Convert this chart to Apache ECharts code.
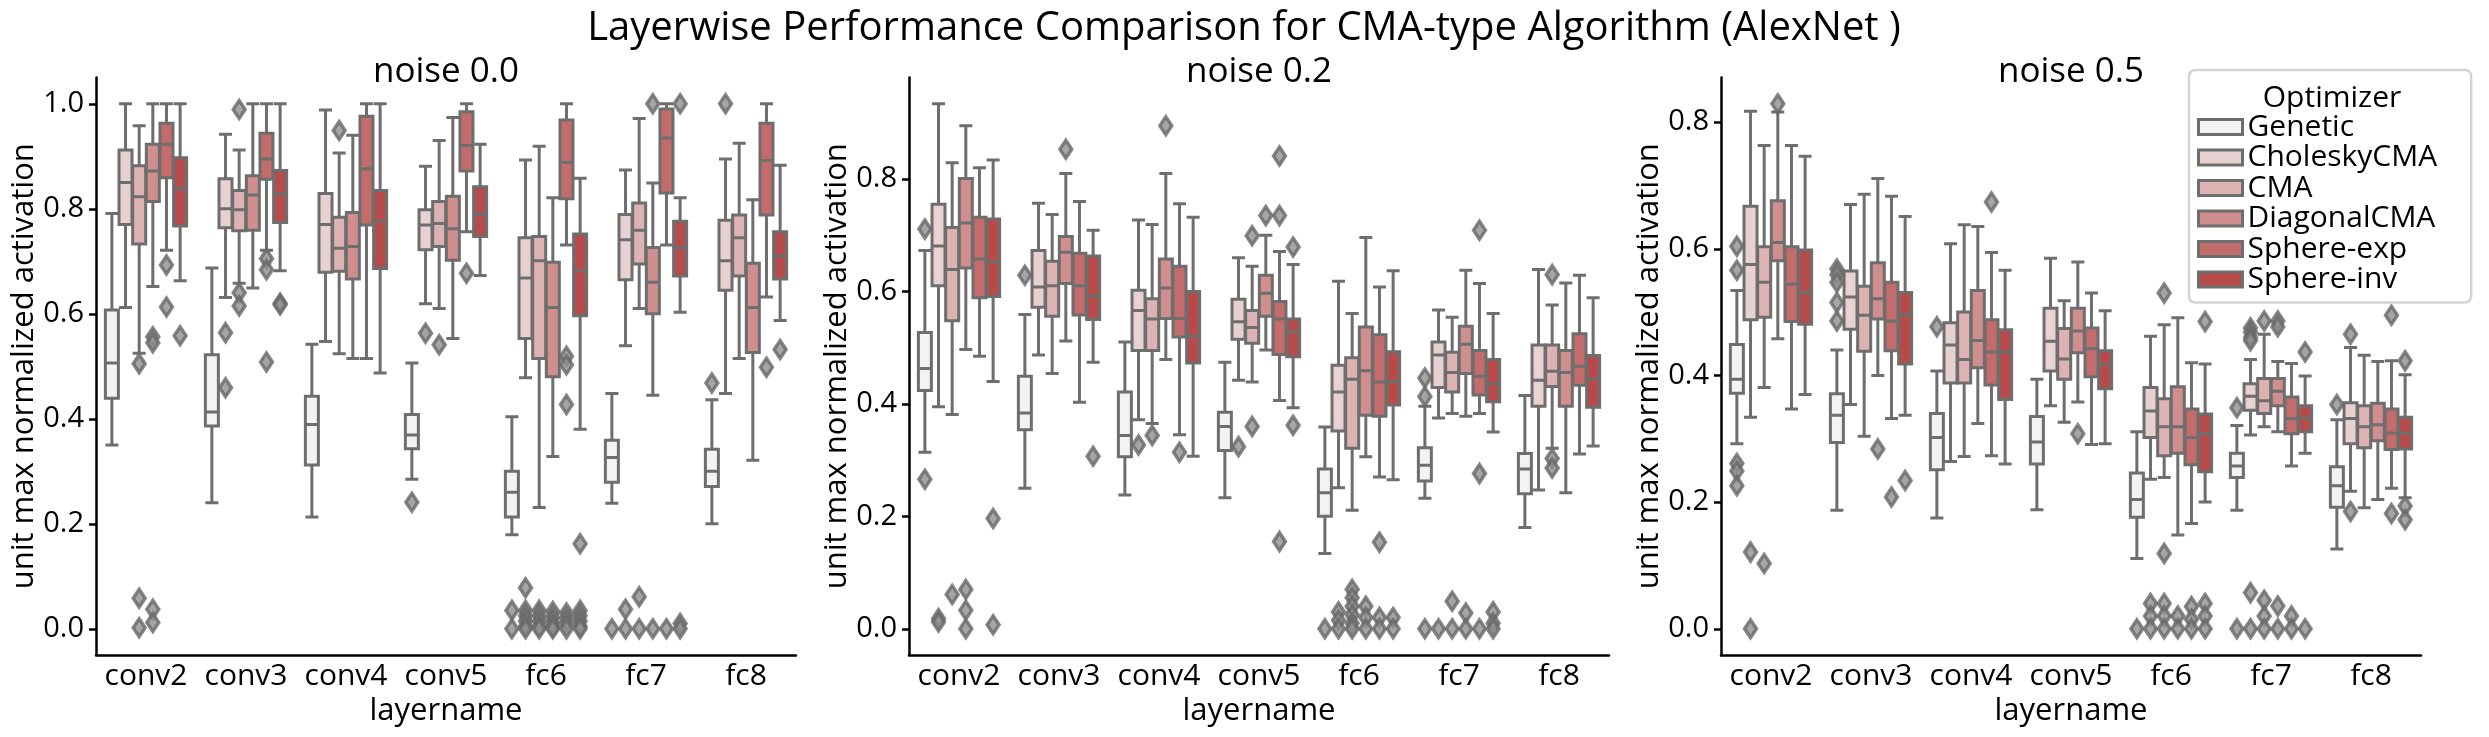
<!DOCTYPE html>
<html>
<head>
<meta charset="utf-8">
<script src="https://cdn.jsdelivr.net/npm/echarts@6/dist/echarts.min.js"></script>
<style>
  html, body { margin: 0; padding: 0; background: #fff; }
  #chart { width: 2489px; height: 737px; }
</style>
</head>
<body>
<div id="chart"></div>
<script>
// data
const categories = ['conv2', 'conv3', 'conv4', 'conv5', 'fc6', 'fc7', 'fc8'];
const optimizers = ['Genetic', 'CholeskyCMA', 'CMA', 'DiagonalCMA', 'Sphere-exp', 'Sphere-inv'];
const panelTitles = ['noise 0.0', 'noise 0.2', 'noise 0.5'];
const yTicks0 = [0, 0.2, 0.4, 0.6, 0.8, 1.0];
const yTicks1 = [0, 0.2, 0.4, 0.6, 0.8];
const yTicks2 = [0, 0.2, 0.4, 0.6, 0.8];

// [low whisker, q1, median, q3, high whisker] per layer
// noise 0.0
const n00Genetic = [[0.350, 0.439, 0.506, 0.607, 0.791], [0.240, 0.386, 0.413, 0.522, 0.687], [0.213, 0.312, 0.389, 0.443, 0.542], [0.285, 0.343, 0.369, 0.408, 0.506], [0.179, 0.213, 0.260, 0.300, 0.404], [0.239, 0.279, 0.326, 0.359, 0.448], [0.200, 0.271, 0.300, 0.342, 0.436]];
const n00Cholesky = [[0.612, 0.770, 0.850, 0.912, 1.0], [0.631, 0.764, 0.800, 0.857, 0.942], [0.547, 0.679, 0.770, 0.829, 0.988], [0.619, 0.722, 0.769, 0.798, 0.881], [0.478, 0.553, 0.668, 0.745, 0.893], [0.539, 0.665, 0.741, 0.789, 0.874], [0.448, 0.645, 0.701, 0.778, 0.895]];
const n00CMA = [[0.525, 0.733, 0.823, 0.882, 0.958], [0.658, 0.758, 0.798, 0.835, 0.912], [0.524, 0.681, 0.725, 0.784, 0.906], [0.610, 0.728, 0.772, 0.814, 0.930], [0.231, 0.515, 0.701, 0.747, 0.919], [0.610, 0.695, 0.759, 0.811, 0.972], [0.515, 0.672, 0.745, 0.788, 0.925]];
const n00Diagonal = [[0.652, 0.814, 0.872, 0.923, 1.0], [0.649, 0.759, 0.826, 0.863, 1.0], [0.515, 0.666, 0.728, 0.793, 0.940], [0.553, 0.702, 0.762, 0.824, 0.974], [0.328, 0.480, 0.612, 0.698, 0.821], [0.445, 0.600, 0.660, 0.726, 0.849], [0.321, 0.526, 0.612, 0.696, 0.817]];
const n00SphereExp = [[0.721, 0.859, 0.923, 0.963, 1.0], [0.721, 0.856, 0.895, 0.944, 1.0], [0.515, 0.769, 0.876, 0.976, 1.0], [0.756, 0.872, 0.921, 0.985, 1.0], [0.731, 0.819, 0.888, 0.969, 1.0], [0.731, 0.830, 0.935, 0.990, 1.0], [0.632, 0.788, 0.892, 0.963, 1.0]];
const n00SphereInv = [[0.663, 0.767, 0.838, 0.897, 1.0], [0.682, 0.774, 0.828, 0.873, 1.0], [0.487, 0.686, 0.776, 0.835, 1.0], [0.673, 0.747, 0.790, 0.842, 0.923], [0.380, 0.596, 0.682, 0.752, 0.858], [0.603, 0.672, 0.726, 0.776, 0.821], [0.587, 0.666, 0.710, 0.756, 0.883]];
// noise 0.2
const n02Genetic = [[0.314, 0.424, 0.463, 0.527, 0.673], [0.250, 0.354, 0.384, 0.449, 0.559], [0.238, 0.306, 0.344, 0.421, 0.510], [0.233, 0.317, 0.360, 0.385, 0.474], [0.134, 0.200, 0.242, 0.284, 0.359], [0.232, 0.263, 0.291, 0.322, 0.396], [0.180, 0.240, 0.284, 0.312, 0.415]];
const n02Cholesky = [[0.395, 0.610, 0.681, 0.755, 0.934], [0.487, 0.572, 0.608, 0.673, 0.757], [0.372, 0.495, 0.566, 0.602, 0.727], [0.442, 0.515, 0.546, 0.586, 0.660], [0.251, 0.352, 0.421, 0.469, 0.618], [0.375, 0.429, 0.487, 0.510, 0.567], [0.247, 0.396, 0.442, 0.505, 0.639]];
const n02CMA = [[0.381, 0.548, 0.639, 0.714, 0.829], [0.454, 0.556, 0.610, 0.654, 0.737], [0.365, 0.495, 0.551, 0.587, 0.719], [0.439, 0.508, 0.536, 0.566, 0.645], [0.211, 0.321, 0.444, 0.482, 0.561], [0.383, 0.421, 0.456, 0.492, 0.554], [0.321, 0.431, 0.458, 0.505, 0.576]];
const n02Diagonal = [[0.497, 0.642, 0.722, 0.801, 0.895], [0.512, 0.614, 0.670, 0.698, 0.810], [0.479, 0.552, 0.606, 0.658, 0.810], [0.496, 0.556, 0.597, 0.629, 0.700], [0.306, 0.380, 0.459, 0.537, 0.696], [0.378, 0.454, 0.506, 0.538, 0.638], [0.242, 0.396, 0.456, 0.495, 0.615]];
const n02SphereExp = [[0.485, 0.589, 0.658, 0.732, 0.820], [0.403, 0.558, 0.610, 0.668, 0.760], [0.345, 0.519, 0.552, 0.645, 0.756], [0.406, 0.488, 0.551, 0.582, 0.671], [0.270, 0.378, 0.439, 0.523, 0.608], [0.383, 0.416, 0.449, 0.495, 0.614], [0.311, 0.433, 0.467, 0.525, 0.629]];
const n02SphereInv = [[0.440, 0.591, 0.653, 0.729, 0.834], [0.474, 0.550, 0.592, 0.663, 0.709], [0.307, 0.473, 0.521, 0.600, 0.732], [0.393, 0.484, 0.529, 0.551, 0.648], [0.265, 0.398, 0.440, 0.493, 0.637], [0.350, 0.404, 0.436, 0.479, 0.561], [0.325, 0.394, 0.444, 0.486, 0.589]];
// noise 0.5
const n05Genetic = [[0.292, 0.372, 0.394, 0.449, 0.534], [0.187, 0.294, 0.337, 0.371, 0.440], [0.175, 0.251, 0.302, 0.340, 0.407], [0.188, 0.260, 0.295, 0.335, 0.394], [0.111, 0.176, 0.204, 0.246, 0.311], [0.187, 0.239, 0.257, 0.277, 0.321], [0.126, 0.192, 0.226, 0.256, 0.330]];
const n05Cholesky = [[0.334, 0.488, 0.575, 0.667, 0.817], [0.354, 0.473, 0.524, 0.565, 0.670], [0.264, 0.388, 0.448, 0.483, 0.608], [0.352, 0.407, 0.454, 0.506, 0.585], [0.236, 0.302, 0.344, 0.381, 0.462], [0.306, 0.345, 0.367, 0.387, 0.425], [0.217, 0.292, 0.332, 0.357, 0.444]];
const n05CMA = [[0.381, 0.492, 0.547, 0.603, 0.763], [0.304, 0.438, 0.495, 0.541, 0.686], [0.272, 0.388, 0.425, 0.500, 0.638], [0.326, 0.394, 0.426, 0.474, 0.518], [0.239, 0.273, 0.319, 0.363, 0.480], [0.319, 0.340, 0.360, 0.395, 0.465], [0.191, 0.286, 0.319, 0.352, 0.432]];
const n05Diagonal = [[0.458, 0.581, 0.610, 0.676, 0.816], [0.400, 0.489, 0.521, 0.578, 0.711], [0.324, 0.412, 0.455, 0.534, 0.635], [0.358, 0.436, 0.470, 0.506, 0.579], [0.148, 0.277, 0.319, 0.382, 0.491], [0.311, 0.352, 0.375, 0.395, 0.422], [0.204, 0.297, 0.322, 0.356, 0.422]];
const n05SphereExp = [[0.347, 0.485, 0.544, 0.603, 0.763], [0.332, 0.439, 0.486, 0.547, 0.683], [0.273, 0.385, 0.437, 0.488, 0.594], [0.291, 0.398, 0.442, 0.475, 0.530], [0.166, 0.259, 0.302, 0.347, 0.420], [0.257, 0.308, 0.332, 0.366, 0.419], [0.222, 0.283, 0.309, 0.347, 0.423]];
const n05SphereInv = [[0.370, 0.481, 0.531, 0.598, 0.746], [0.337, 0.418, 0.496, 0.531, 0.651], [0.260, 0.362, 0.437, 0.472, 0.566], [0.292, 0.379, 0.417, 0.439, 0.502], [0.200, 0.248, 0.308, 0.339, 0.418], [0.277, 0.311, 0.332, 0.352, 0.399], [0.207, 0.284, 0.309, 0.334, 0.401]];

// outliers: [layer, value]
const n00GeneticOut = [['conv5', 0.241], ['fc6', 0.035], ['fc6', 0.0], ['fc7', 0.0], ['fc8', 0.468]];
const n00CholeskyOut = [['conv3', 0.564], ['conv3', 0.459], ['conv5', 0.563], ['fc6', 0.078], ['fc6', 0.035], ['fc6', 0.025], ['fc6', 0.015], ['fc6', 0.005], ['fc6', 0.0], ['fc7', 0.037], ['fc7', 0.0], ['fc8', 1.0]];
const n00CMAOut = [['conv2', 0.505], ['conv2', 0.058], ['conv2', 0.002], ['conv3', 0.989], ['conv3', 0.640], ['conv3', 0.615], ['conv4', 0.949], ['conv5', 0.541], ['fc6', 0.035], ['fc6', 0.025], ['fc6', 0.015], ['fc6', 0.005], ['fc6', 0.0], ['fc7', 0.061], ['fc7', 0.0]];
const n00DiagonalOut = [['conv2', 0.556], ['conv2', 0.545], ['conv2', 0.037], ['conv2', 0.012], ['fc6', 0.033], ['fc6', 0.022], ['fc6', 0.012], ['fc6', 0.004], ['fc6', 0.0], ['fc7', 1.0], ['fc7', 0.0]];
const n00SphereExpOut = [['conv2', 0.693], ['conv2', 0.613], ['conv3', 0.705], ['conv3', 0.684], ['conv3', 0.508], ['conv5', 0.677], ['fc6', 0.519], ['fc6', 0.503], ['fc6', 0.427], ['fc6', 0.03], ['fc6', 0.02], ['fc6', 0.01], ['fc6', 0.0], ['fc7', 0.0], ['fc8', 0.498]];
const n00SphereInvOut = [['conv2', 0.558], ['conv3', 0.620], ['conv3', 0.617], ['fc6', 0.162], ['fc6', 0.035], ['fc6', 0.025], ['fc6', 0.015], ['fc6', 0.005], ['fc6', 0.0], ['fc7', 1.0], ['fc7', 0.01], ['fc7', 0.0], ['fc8', 0.532]];

const n02GeneticOut = [['conv2', 0.711], ['conv2', 0.266], ['conv3', 0.629], ['fc6', 0.0], ['fc7', 0.446], ['fc7', 0.413], ['fc7', 0.0]];
const n02CholeskyOut = [['conv2', 0.018], ['conv2', 0.012], ['conv4', 0.327], ['conv5', 0.324], ['fc6', 0.03], ['fc6', 0.015], ['fc6', 0.0], ['fc7', 0.0]];
const n02CMAOut = [['conv2', 0.061], ['conv4', 0.344], ['conv5', 0.699], ['conv5', 0.360], ['fc6', 0.07], ['fc6', 0.055], ['fc6', 0.04], ['fc6', 0.025], ['fc6', 0.01], ['fc6', 0.0], ['fc7', 0.049], ['fc7', 0.0], ['fc8', 0.630], ['fc8', 0.303], ['fc8', 0.286]];
const n02DiagonalOut = [['conv2', 0.070], ['conv2', 0.033], ['conv2', 0.0], ['conv3', 0.853], ['conv4', 0.895], ['conv5', 0.735], ['fc6', 0.04], ['fc6', 0.02], ['fc6', 0.0], ['fc7', 0.028], ['fc7', 0.0]];
const n02SphereExpOut = [['conv4', 0.314], ['conv5', 0.841], ['conv5', 0.735], ['conv5', 0.155], ['fc6', 0.154], ['fc6', 0.02], ['fc6', 0.0], ['fc7', 0.709], ['fc7', 0.276], ['fc7', 0.0]];
const n02SphereInvOut = [['conv2', 0.196], ['conv2', 0.007], ['conv3', 0.307], ['conv5', 0.679], ['conv5', 0.362], ['fc6', 0.02], ['fc6', 0.0], ['fc7', 0.03], ['fc7', 0.01], ['fc7', 0.0]];

const n05GeneticOut = [['conv2', 0.604], ['conv2', 0.566], ['conv2', 0.261], ['conv2', 0.249], ['conv2', 0.226], ['conv3', 0.568], ['conv3', 0.559], ['conv3', 0.547], ['conv3', 0.515], ['conv3', 0.486], ['conv4', 0.477], ['fc6', 0.0], ['fc7', 0.349], ['fc7', 0.0], ['fc8', 0.354]];
const n05CholeskyOut = [['conv2', 0.121], ['conv2', 0.0], ['fc6', 0.04], ['fc6', 0.02], ['fc6', 0.0], ['fc7', 0.475], ['fc7', 0.468], ['fc7', 0.460], ['fc7', 0.455], ['fc7', 0.057], ['fc7', 0.0], ['fc8', 0.465], ['fc8', 0.185]];
const n05CMAOut = [['conv2', 0.103], ['fc6', 0.530], ['fc6', 0.119], ['fc6', 0.04], ['fc6', 0.02], ['fc6', 0.0], ['fc7', 0.486], ['fc7', 0.045], ['fc7', 0.02], ['fc7', 0.0]];
const n05DiagonalOut = [['conv2', 0.829], ['conv3', 0.284], ['conv5', 0.308], ['fc6', 0.02], ['fc6', 0.0], ['fc7', 0.486], ['fc7', 0.477], ['fc7', 0.036], ['fc7', 0.0]];
const n05SphereExpOut = [['conv3', 0.208], ['conv4', 0.674], ['fc6', 0.035], ['fc6', 0.015], ['fc6', 0.0], ['fc7', 0.02], ['fc7', 0.0], ['fc8', 0.495], ['fc8', 0.182]];
const n05SphereInvOut = [['conv3', 0.234], ['fc6', 0.485], ['fc6', 0.04], ['fc6', 0.02], ['fc6', 0.0], ['fc7', 0.437], ['fc7', 0.0], ['fc8', 0.423], ['fc8', 0.194], ['fc8', 0.172]];

// styles
const fills = ['#f3f3f3', '#e8d1d1', '#ddb2b2', '#d08e8e', '#c46b6b', '#b74a4a'];
const lineGray = '#6e6e6e';
const font = '"Open Sans", sans-serif';

const panelBoxes = [
  [n00Genetic, n00Cholesky, n00CMA, n00Diagonal, n00SphereExp, n00SphereInv],
  [n02Genetic, n02Cholesky, n02CMA, n02Diagonal, n02SphereExp, n02SphereInv],
  [n05Genetic, n05Cholesky, n05CMA, n05Diagonal, n05SphereExp, n05SphereInv]
];
const panelOutliers = [
  [n00GeneticOut, n00CholeskyOut, n00CMAOut, n00DiagonalOut, n00SphereExpOut, n00SphereInvOut],
  [n02GeneticOut, n02CholeskyOut, n02CMAOut, n02DiagonalOut, n02SphereExpOut, n02SphereInvOut],
  [n05GeneticOut, n05CholeskyOut, n05CMAOut, n05DiagonalOut, n05SphereExpOut, n05SphereInvOut]
];
const panelTicks = [yTicks0, yTicks1, yTicks2];

// layout of the three axes (pixels)
const gridLefts = [96, 909, 1721];
const gridTop = 77.5, gridW = 700, gridH = 577.5;
// hue dodge in category units, same as the boxplot side-by-side layout
const hueStep = 0.1365;

function panelMax(p) {
  let m = 0;
  panelBoxes[p].forEach(function (rows) { rows.forEach(function (r) { m = Math.max(m, r[4]); }); });
  panelOutliers[p].forEach(function (list) { list.forEach(function (o) { m = Math.max(m, o[1]); }); });
  return m;
}

var chart = echarts.init(document.getElementById('chart'));

var grids = [], xAxes = [], yAxes = [], series = [], graphics = [];

// category axes first (index 0..2), hidden value axes for outliers (3..5)
for (let p = 0; p < 3; p++) {
  grids.push({ left: gridLefts[p], top: gridTop, width: gridW, height: gridH });
  xAxes.push({
    type: 'category', gridIndex: p, data: categories,
    name: 'layername', nameLocation: 'middle', nameGap: 36,
    nameTextStyle: { fontSize: 31, color: '#000', fontFamily: font },
    axisLine: { onZero: false, lineStyle: { color: '#000', width: 2.5 } },
    axisTick: { alignWithLabel: true, length: 7, lineStyle: { color: '#000', width: 2.5 } },
    axisLabel: { interval: 0, fontSize: 30, color: '#000', margin: 6, fontFamily: font },
    splitLine: { show: false }
  });
  let m = panelMax(p);
  yAxes.push({
    type: 'value', gridIndex: p, min: -0.05 * m, max: 1.05 * m,
    name: 'unit max normalized activation', nameLocation: 'middle', nameGap: 56,
    nameTextStyle: { fontSize: 31, color: '#000', fontFamily: font },
    axisLine: { show: true, onZero: false, lineStyle: { color: '#000', width: 2.5 } },
    axisTick: { show: true, length: 7, customValues: panelTicks[p], lineStyle: { color: '#000', width: 2.5 } },
    axisLabel: { fontSize: 29, color: '#000', margin: 12, fontFamily: font, customValues: panelTicks[p],
      formatter: function (v) { return v.toFixed(1); } },
    splitLine: { show: false }
  });
}
for (let p = 0; p < 3; p++) {
  xAxes.push({ type: 'value', gridIndex: p, min: -0.5, max: categories.length - 0.5, show: false });
}

for (let p = 0; p < 3; p++) {
  for (let h = 0; h < optimizers.length; h++) {
    series.push({
      type: 'boxplot', name: optimizers[h], xAxisIndex: p, yAxisIndex: p,
      data: panelBoxes[p][h], boxWidth: [13, 13],
      itemStyle: { color: fills[h], borderColor: lineGray, borderWidth: 3 },
      emphasis: { disabled: true }
    });
  }
  for (let h = 0; h < optimizers.length; h++) {
    series.push({
      type: 'scatter', name: optimizers[h] + ' outliers', xAxisIndex: 3 + p, yAxisIndex: p,
      symbol: 'diamond', symbolSize: [12, 18],
      data: panelOutliers[p][h].map(function (o) {
        return [categories.indexOf(o[0]) + (h - 2.5) * hueStep, o[1]];
      }),
      itemStyle: { color: '#8e8e8e', borderColor: '#686868', borderWidth: 3.5 },
      emphasis: { disabled: true }, z: 3
    });
  }
  graphics.push({
    type: 'text', x: gridLefts[p] + gridW / 2, y: 72,
    style: { text: panelTitles[p], fontSize: 35, fill: '#000', fontFamily: font, textAlign: 'center', textVerticalAlign: 'middle' }
  });
}

graphics.push({
  type: 'text', x: 1244, y: 29,
  style: { text: 'Layerwise Performance Comparison for CMA-type Algorithm (AlexNet )', fontSize: 40, fill: '#000', fontFamily: font, textAlign: 'center', textVerticalAlign: 'middle' }
});
graphics.push({
  type: 'text', x: 2332, y: 98, z: 100,
  style: { text: 'Optimizer', fontSize: 30, fill: '#000', fontFamily: font, textAlign: 'center', textVerticalAlign: 'middle' }
});

option = {
  animation: false,
  textStyle: { fontFamily: font },
  grid: grids,
  xAxis: xAxes,
  yAxis: yAxes,
  legend: {
    data: optimizers.map(function (n, i) {
      return { name: n, itemStyle: { color: fills[i], borderColor: lineGray, borderWidth: 3 } };
    }),
    orient: 'vertical', left: 2189, top: 70,
    icon: 'rect', itemWidth: 44, itemHeight: 15, itemGap: 0.5,
    padding: [42, 34, 8, 8],
    backgroundColor: 'rgba(255,255,255,0.85)', borderColor: '#d4d4d4', borderWidth: 2.5, borderRadius: 6,
    textStyle: { fontSize: 30, lineHeight: 28.5, color: '#000', fontFamily: font },
    selectedMode: false
  },
  graphic: graphics,
  series: series
};

chart.setOption(option);
</script>
</body>
</html>
